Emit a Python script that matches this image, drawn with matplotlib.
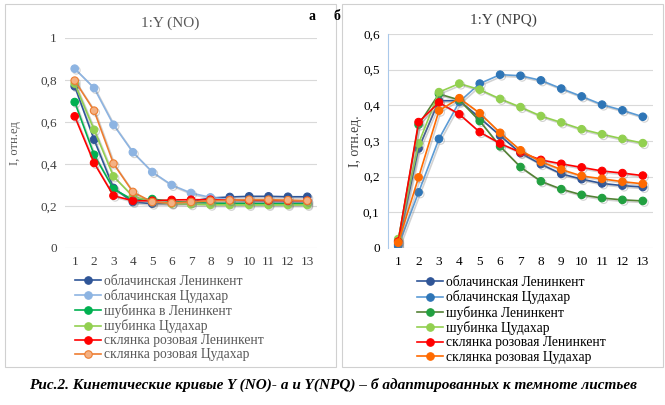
import matplotlib
matplotlib.use('Agg')
import matplotlib.pyplot as plt
import matplotlib.patheffects as pe
from matplotlib.patches import Rectangle
from matplotlib.ticker import FuncFormatter

# ─── data ─────────────────────────────────────────────────────────────────────
X = list(range(1, 14))

NO_NAMES = ['облачинская Ленинкент', 'облачинская Цудахар', 'шубинка в Ленинкент',
            'шубинка Цудахар', 'склянка розовая Ленинкент', 'склянка розовая Цудахар']
NO_OBL_LEN = [0.770, 0.516, 0.286, 0.219, 0.211, 0.214, 0.222, 0.238, 0.243, 0.246, 0.246, 0.244, 0.244]
NO_OBL_CUD = [0.854, 0.762, 0.587, 0.456, 0.362, 0.300, 0.262, 0.241, 0.230, 0.222, 0.219, 0.217, 0.217]
NO_SHU_LEN = [0.695, 0.444, 0.281, 0.230, 0.233, 0.222, 0.217, 0.214, 0.213, 0.212, 0.211, 0.211, 0.211]
NO_SHU_CUD = [0.783, 0.563, 0.341, 0.246, 0.222, 0.211, 0.208, 0.206, 0.205, 0.205, 0.205, 0.205, 0.205]
NO_SKL_LEN = [0.627, 0.405, 0.249, 0.225, 0.225, 0.229, 0.230, 0.230, 0.228, 0.227, 0.226, 0.225, 0.225]
NO_SKL_CUD = [0.797, 0.654, 0.402, 0.267, 0.219, 0.214, 0.219, 0.225, 0.227, 0.230, 0.230, 0.228, 0.225]

NPQ_NAMES = ['облачинская Ленинкент', 'облачинская Цудахар', 'шубинка Ленинкент',
             'шубинка Цудахар', 'склянка розовая Ленинкент', 'склянка розовая Цудахар']
NPQ_OBL_LEN = [0.010, 0.279, 0.413, 0.413, 0.365, 0.315, 0.266, 0.235, 0.208, 0.193, 0.181, 0.175, 0.171]
NPQ_OBL_CUD = [0.005, 0.156, 0.306, 0.410, 0.461, 0.486, 0.483, 0.470, 0.447, 0.425, 0.402, 0.386, 0.368]
NPQ_SHU_LEN = [0.020, 0.346, 0.432, 0.415, 0.356, 0.285, 0.227, 0.187, 0.165, 0.149, 0.140, 0.135, 0.132]
NPQ_SHU_CUD = [0.025, 0.293, 0.437, 0.461, 0.444, 0.418, 0.395, 0.370, 0.352, 0.333, 0.319, 0.306, 0.294]
NPQ_SKL_LEN = [0.018, 0.353, 0.408, 0.375, 0.325, 0.293, 0.268, 0.247, 0.236, 0.226, 0.216, 0.210, 0.203]
NPQ_SKL_CUD = [0.015, 0.198, 0.385, 0.420, 0.378, 0.323, 0.274, 0.242, 0.220, 0.202, 0.194, 0.186, 0.180]

CAPTION = 'Рис.2. Кинетические кривые Y (NO)- а и Y(NPQ) – б адаптированных к темноте листьев'

# ─── styles ───────────────────────────────────────────────────────────────────
# (line colour, marker face, marker edge)
NO_STYLES = [('#2F5597', '#2F5597', '#2F5597'),
             ('#8DB4E2', '#8DB4E2', '#8DB4E2'),
             ('#00B050', '#00B050', '#00B050'),
             ('#92D050', '#92D050', '#92D050'),
             ('#FF0000', '#FF0000', '#FF0000'),
             ('#ED7D31', '#F4B183', '#ED7D31')]
NPQ_STYLES = [('#2F5597', '#2F5597', '#2F5597'),
              ('#5B9BD5', '#2E75B6', '#2E75B6'),
              ('#548235', '#22A040', '#22A040'),
              ('#92D050', '#92D050', '#92D050'),
              ('#FF0000', '#FF0000', '#FF0000'),
              ('#FF6A00', '#FF6A00', '#FF6A00')]

plt.rcParams['font.family'] = ['Liberation Serif', 'DejaVu Serif']

fig = plt.figure(figsize=(6.65, 4.05), dpi=100)
W, H = 665, 405


def px(x0, y0, w, h):
    return [x0 / W, 1 - (y0 + h) / H, w / W, h / H]


comma = FuncFormatter(lambda v, p: f'{v:g}'.replace('.', ','))
shadow = [pe.SimpleLineShadow(offset=(1.2, -1.2), shadow_color='#808080', alpha=0.35),
          pe.Normal()]

# panel frames
for x0, y0, w, h in [(5, 4, 331, 363), (342, 4, 321, 363)]:
    fig.patches.append(Rectangle((x0 / W, 1 - (y0 + h) / H), w / W, h / H,
                                 transform=fig.transFigure, fill=False,
                                 edgecolor='#D0D0D0', lw=0.8))


def draw(ax, series, names, styles, tick_color, ymax, ystep):
    for ys, name, (lc, mf, me) in zip(series, names, styles):
        ax.plot(X, ys, color=lc, lw=1.2, marker='o', ms=5.4,
                markerfacecolor=mf, markeredgecolor=me, markeredgewidth=0.8,
                label=name, path_effects=shadow)
    ax.set_xlim(0.5, 13.5)
    ax.set_ylim(0, ymax)
    ax.set_xticks(X)
    ax.set_yticks([i * ystep for i in range(int(round(ymax / ystep)) + 1)])
    ax.yaxis.set_major_formatter(comma)
    ax.grid(axis='y', color='#D9D9D9', lw=0.8)
    ax.set_axisbelow(True)
    ax.tick_params(length=0, labelsize=9.5, colors=tick_color, pad=6)
    for s in ax.spines.values():
        s.set_visible(False)


def legend(ax, anchor, spacing, color):
    leg = ax.legend(loc='upper left', bbox_to_anchor=anchor, bbox_transform=fig.transFigure,
                    frameon=False, fontsize=9.8, handlelength=1.9, handletextpad=0.25,
                    labelspacing=spacing, borderaxespad=0, borderpad=0)
    for h in leg.legend_handles:
        h.set_path_effects([])
    for t in leg.get_texts():
        t.set_color(color)


# ─── (a) Y(NO) ────────────────────────────────────────────────────────────────
ax1 = fig.add_axes(px(65, 38, 252, 210))
draw(ax1, [NO_OBL_LEN, NO_OBL_CUD, NO_SHU_LEN, NO_SHU_CUD, NO_SKL_LEN, NO_SKL_CUD],
     NO_NAMES, NO_STYLES, '#404040', 1.0, 0.2)
ax1.set_ylabel('I, отн.ед', fontsize=9, color='#595959', labelpad=14)
legend(ax1, (75 / W, 1 - 275 / H), 0.08, '#595959')
fig.text(170 / W, 1 - 23 / H, '1:Y (NO)', fontsize=11, color='#595959',
         ha='center', va='center')

# ─── (б) Y(NPQ) ───────────────────────────────────────────────────────────────
ax2 = fig.add_axes(px(388, 34, 265, 214))
draw(ax2, [NPQ_OBL_LEN, NPQ_OBL_CUD, NPQ_SHU_LEN, NPQ_SHU_CUD, NPQ_SKL_LEN, NPQ_SKL_CUD],
     NPQ_NAMES, NPQ_STYLES, '#000000', 0.6, 0.1)
ax2.spines['left'].set_visible(True)
ax2.spines['left'].set_color('#A9C8EA')
ax2.set_ylabel('I, отн.ед.', fontsize=10, color='#404040', labelpad=1)
legend(ax2, (417 / W, 1 - 276 / H), 0.1, '#000000')
fig.text(503 / W, 1 - 20 / H, '1:Y (NPQ)', fontsize=11, color='#404040',
         ha='center', va='center')

fig.text(312 / W, 1 - 17 / H, 'а', fontsize=10, fontweight='bold', ha='center', va='center')
fig.text(337 / W, 1 - 17 / H, 'б', fontsize=10, fontweight='bold', ha='center', va='center')
fig.text(333 / W, 1 - 385 / H, CAPTION, fontsize=11, fontweight='bold', fontstyle='italic',
         ha='center', va='center')

fig.savefig('out.png', dpi=100)
